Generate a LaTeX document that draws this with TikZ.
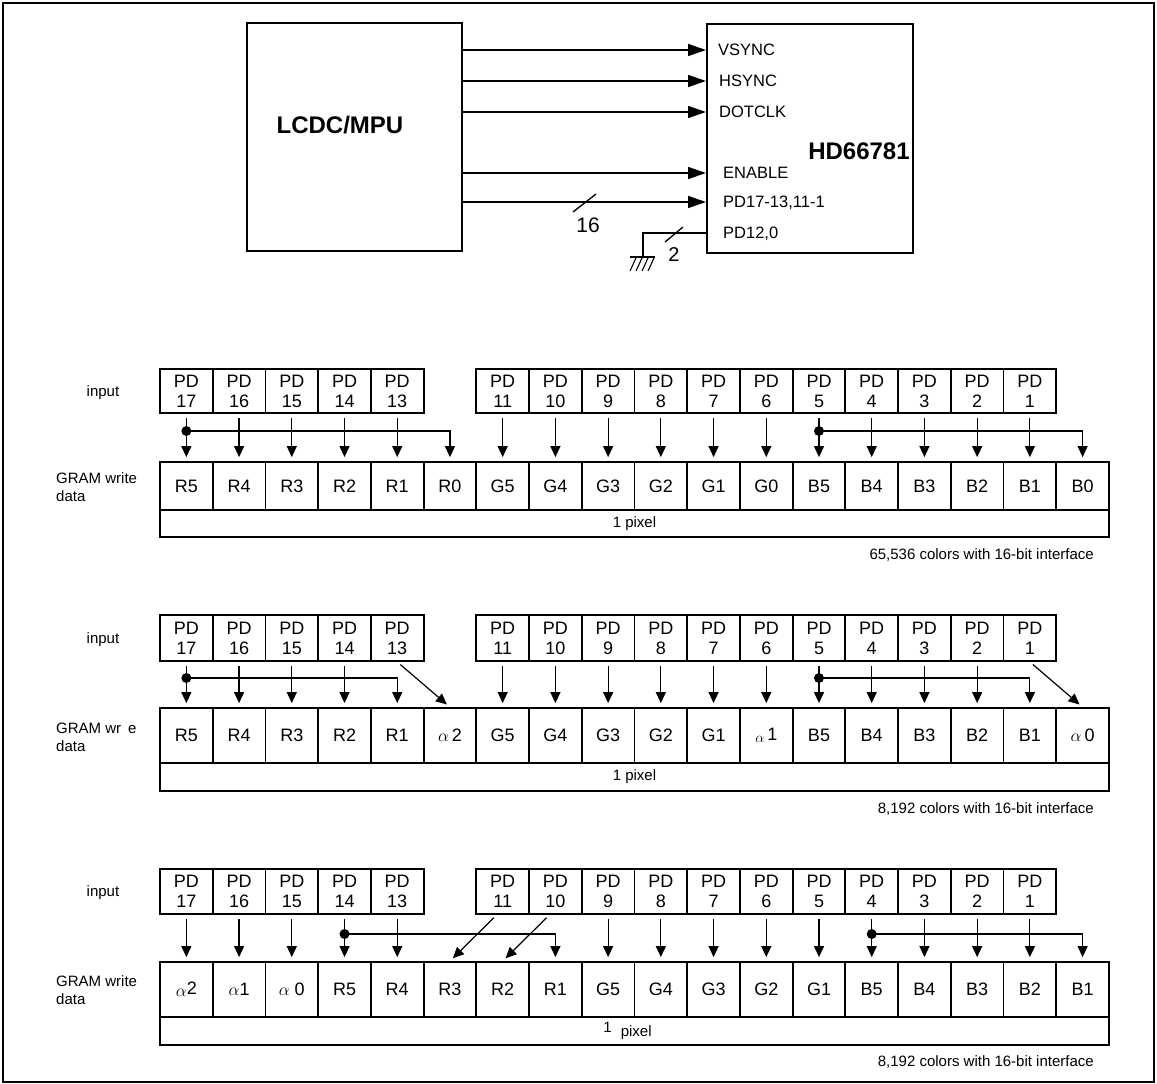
\documentclass[tikz,border=0pt]{standalone}
\usepackage{fontspec}
\setmainfont{Liberation Sans}
\usetikzlibrary{arrows.meta,positioning}

\newcommand\cw{52.72}
\newcommand\fsz[2]{\fontsize{#1}{#2}\selectfont}
% one row of PD input boxes: row, y centre, height
\newcommand\inrow[3]{%
  \foreach \i/\n in {0/17,1/16,2/15,3/14,4/13,6/11,7/10,8/9,9/8,10/7,11/6,12/5,13/4,14/3,15/2,16/1}
    {\node[pdbox,minimum height=#3] (in#1-\i) at ({160+(\i+0.5)*\cw},#2) {PD\\\n};}}
% one row of GRAM cells: row, y centre, height, labels
\newcommand\gramrow[4]{%
  \foreach \t [count=\k from 0] in {#4}
    {\node[cell,minimum height=#3] (g#1-\k) at ({160+(\k+0.5)*\cw},#2) {\t};}}
\newcommand\pxbar[4]{%
  \node[cell,minimum width=18*\cw,minimum height=#3,font=\fsz{15}{15}] (px#1) at (634.5,#2) {#4};}
% fan-out with dot: row, from, to, y
\newcommand\junc[4]{%
  \coordinate (j#1-#2) at (in#1-#2.south |- 0,#4);
  \fill (j#1-#2) circle[radius=5pt];
  \draw[ar,shorten <=0pt] (j#1-#2) -| (g#1-#3.north);}

\begin{document}
\begin{tikzpicture}[x=1pt,y=-1pt,
  blk/.style={draw,line width=2pt,inner sep=0pt},
  pdbox/.style={draw,line width=1.8pt,minimum width=\cw,inner sep=0pt,align=center,font=\fsz{18}{20}},
  cell/.style={draw,line width=1.8pt,minimum width=\cw,inner sep=0pt,align=center,font=\fsz{18}{20}},
  ar/.style={-{Triangle[length=11pt,width=10pt]},line width=1.2pt,shorten <=4pt,shorten >=4pt},
  bus/.style={-{Triangle[length=18pt,width=12pt]},line width=1.5pt},
  lbl/.style={inner sep=0pt,font=\fsz{15}{18}},
  pin/.style={anchor=west,inner sep=0pt,text depth=0pt,font=\fsz{16.5}{18}}
]
\useasboundingbox (0,0) rectangle (1157,1084);
\draw[line width=1.5pt] (3,3) rectangle (1154,1082);

% interface
\node[blk,minimum width=215,minimum height=228] (mpu) at (354.5,137) {};
\node[font=\bfseries\fsz{24}{24}] (mpul) at (340,125) {LCDC/MPU};
\node[blk,minimum width=206,minimum height=229] (hd) at (810,138.5) {};
\node[font=\bfseries\fsz{24}{24}] (hdl) at (859,151) {HD66781};
\node[pin] (vs) at (718,50) {VSYNC};
\node[pin] (hs) at (719,81) {HSYNC};
\node[pin] (dc) at (719,112) {DOTCLK};
\node[pin] (en) at (723,173) {ENABLE};
\node[pin] (pd) at (723,202) {PD17-13,11-1};
\node[pin] (pz) at (723,233) {PD12,0};
\foreach \p in {vs,hs,dc,en,pd} \draw[bus] (mpu.east |- \p) -- (hd.west |- \p);
\coordinate (gnd) at (643,257);
\draw[line width=1.3pt] (hd.west |- pz) -| (gnd);
\draw[line width=1.3pt] (630,257) -- (655,257);
\foreach \x in {636,642,648,654} \draw[line width=1.1pt] (\x,258) -- (\x-6,271);
\draw[line width=1.3pt] (573,212) -- (596,194);
\node[font=\fsz{21}{21}] (n16) at (588,225) {16};
\draw[line width=1.3pt] (665,242) -- (683,227);
\node[font=\fsz{20}{20}] (n2) at (674,255) {2};

% 65,536 colours
\node[lbl] (inp1) at (103,393) {input};
\node[lbl,anchor=west,align=left] (gw1) at (56,487) {GRAM write\\data};
\inrow{1}{391}{44}
\gramrow{1}{486}{48}{R5,R4,R3,R2,R1,R0,G5,G4,G3,G2,G1,G0,B5,B4,B3,B2,B1,B0}
\pxbar{1}{523.5}{27}{1 pixel}
\foreach \i in {0,1,2,3,4,6,7,8,9,10,11,12,13,14,15,16} \draw[ar] (in1-\i.south) -- (g1-\i.north);
\junc{1}{0}{5}{431}
\junc{1}{12}{17}{431}
\node[lbl,anchor=east] (cap1) at (1094,555) {65,536 colors with 16-bit interface};

% 8,192 colours, alpha in bit 0
\node[lbl] (inp2) at (103,640) {input};
\node[lbl,anchor=west,align=left] (gw2) at (56,737) {GRAM wr\hspace{7pt}e\\data};
\inrow{2}{638}{46}
\gramrow{2}{735.5}{55}{R5,R4,R3,R2,R1,{$\alpha$\,2},G5,G4,G3,G2,G1,{\raisebox{-2pt}{\fsz{15}{15}$\alpha$}\,1},B5,B4,B3,B2,B1,{$\alpha$\,0}}
\pxbar{2}{777}{28}{1 pixel}
\foreach \i in {0,1,2,3,6,7,8,9,10,11,12,13,14,15} \draw[ar] (in2-\i.south) -- (g2-\i.north);
\junc{2}{0}{4}{678}
\junc{2}{12}{16}{678}
\draw[ar] (in2-4.south) -- (g2-5.north);
\draw[ar] (in2-16.south) -- (g2-17.north);
\node[lbl,anchor=east] (cap2) at (1094,809) {8,192 colors with 16-bit interface};

% 8,192 colours, alpha first
\node[lbl] (inp3) at (103,893) {input};
\node[lbl,anchor=west,align=left] (gw3) at (56,990) {GRAM write\\data};
\inrow{3}{891.5}{45}
\gramrow{3}{989.5}{55}{{$\alpha$\raisebox{2pt}{2}},{$\alpha$1},{$\alpha$\ 0},R5,R4,R3,R2,R1,G5,G4,G3,G2,G1,B5,B4,B3,B2,B1}
\pxbar{3}{1031}{28}{\raisebox{4pt}{1}\hspace{9pt}pixel\hspace{14pt}}
\foreach \i in {0,1,2,3,4,8,9,10,11,12,13,14,15,16} \draw[ar] (in3-\i.south) -- (g3-\i.north);
\junc{3}{3}{7}{934}
\junc{3}{13}{17}{934}
\draw[ar] ([xshift=-6pt]in3-6.south) -- (g3-5.north);
\draw[ar] ([xshift=-6pt]in3-7.south) -- (g3-6.north);
\node[lbl,anchor=east] (cap3) at (1094,1062) {8,192 colors with 16-bit interface};
\end{tikzpicture}
\end{document}
